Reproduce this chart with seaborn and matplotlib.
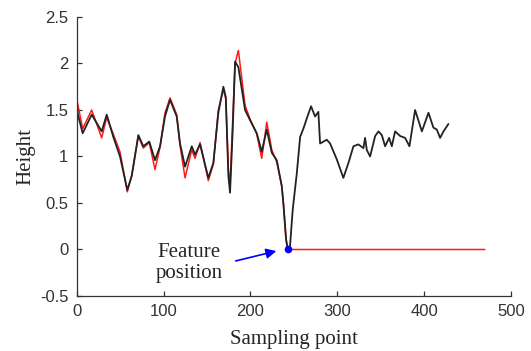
import matplotlib
matplotlib.use("Agg")
import matplotlib.pyplot as plt
import seaborn as sns
import pandas as pd

# ---- data ----
black_x = [0, 1.5, 6.9, 17.3, 28.8, 34.6, 42.2, 49.9, 58.3, 63.4, 71.0, 76.7, 83.6, 90.2,
           96.0, 101.7, 107.5, 115.2, 119.0, 124.8, 132.5, 136.3, 142.1, 151.6, 157.4,
           163.1, 168.9, 171.7, 174.7, 176.6, 179.7, 182.4, 186.2, 193.9, 199.7, 207.4,
           213.1, 218.9, 224.7, 230.4, 236.2, 238.0, 241.1, 243.1, 245.7, 248.8, 253.5,
           257.3, 261.1, 265.0, 269.9, 274.5, 278.3, 280.3, 288.0, 291.8, 299.5, 307.1,
           312.9, 318.7, 324.4, 330.2, 332.1, 334.1, 337.9, 343.7, 347.5, 351.4, 355.2,
           359.8, 362.9, 366.7, 372.5, 378.2, 383.2, 389.7, 397.5, 405.1, 410.8, 414.7,
           418.5, 422.4, 428.1]
black_y = [1.55, 1.45, 1.25, 1.45, 1.27, 1.45, 1.21, 1.00, 0.64, 0.79, 1.23, 1.11, 1.16, 0.96,
           1.11, 1.43, 1.61, 1.43, 1.14, 0.89, 1.11, 1.02, 1.13, 0.77, 0.93,
           1.47, 1.75, 1.64, 0.79, 0.61, 1.29, 2.02, 1.96, 1.50, 1.39, 1.25,
           1.05, 1.29, 1.04, 0.96, 0.68, 0.50, 0.11, 0.00, 0.04, 0.43, 0.82,
           1.21, 1.30, 1.41, 1.54, 1.43, 1.48, 1.14, 1.18, 1.14, 0.97, 0.77,
           0.93, 1.11, 1.13, 1.09, 1.20, 1.07, 1.00, 1.22, 1.27, 1.23, 1.11,
           1.20, 1.11, 1.27, 1.22, 1.20, 1.11, 1.50, 1.27, 1.47, 1.31, 1.29,
           1.20, 1.27, 1.35]

red_x = [0, 6.9, 17.3, 28.8, 34.6, 42.2, 49.9, 58.3, 63.4, 71.0, 76.7, 83.6, 90.2,
         96.0, 101.7, 107.5, 115.2, 119.0, 124.8, 132.5, 136.3, 142.1, 151.6, 157.4,
         163.1, 168.9, 171.7, 174.7, 176.6, 179.7, 182.4, 186.2, 193.9, 199.7, 207.4,
         213.1, 218.9, 224.7, 230.4, 236.2, 238.0, 241.1, 243.1, 470]
red_y = [1.62, 1.30, 1.50, 1.20, 1.42, 1.24, 1.05, 0.62, 0.80, 1.22, 1.09, 1.15, 0.86,
         1.10, 1.47, 1.63, 1.45, 1.12, 0.77, 1.07, 0.98, 1.15, 0.74, 0.92,
         1.50, 1.72, 1.62, 0.85, 0.70, 1.40, 2.00, 2.14, 1.55, 1.40, 1.24,
         0.98, 1.37, 1.07, 0.94, 0.68, 0.50, 0.11, 0.00, 0.00]

feature_x = [243.1]
feature_y = [0.0]

x_ticks = [0, 100, 200, 300, 400, 500]
y_ticks = [-0.5, 0, 0.5, 1, 1.5, 2, 2.5]
y_tick_labels = ["-0.5", "0", "0.5", "1", "1.5", "2", "2.5"]

sns.set_style("ticks")
plt.rcParams['font.family'] = ['Liberation Sans', 'DejaVu Sans']

fig = plt.figure(figsize=(5.31, 3.51), dpi=100)
ax = fig.add_axes([0.1444, 0.1567, 0.9621 - 0.1444, 0.9516 - 0.1567])

red_df = pd.DataFrame({"x": red_x, "y": red_y})
black_df = pd.DataFrame({"x": black_x, "y": black_y})
sns.lineplot(data=red_df, x="x", y="y", color="#ff1a1a", lw=1.1, estimator=None, ax=ax)
sns.lineplot(data=black_df, x="x", y="y", color="#222222", lw=1.3, estimator=None, ax=ax)
ax.scatter(feature_x, feature_y, color="blue", s=20, zorder=5)

ax.annotate("", xy=(233, -0.01), xytext=(180, -0.13),
            arrowprops=dict(arrowstyle="-|>", color="blue", lw=1.2, mutation_scale=15))
ax.text(129.5, -0.145, "Feature\nposition", ha="center", va="center",
        fontsize=15, family=["Liberation Serif"], linespacing=1.1)

ax.set_xlim(0, 500)
ax.set_ylim(-0.5, 2.5)
ax.set_xticks(x_ticks)
ax.set_yticks(y_ticks)
ax.set_yticklabels(y_tick_labels)
ax.tick_params(direction="in", length=3.5, width=0.9, labelsize=12,
               colors="#333333", labelcolor="#333333")
ax.tick_params(axis="x", pad=6)
ax.tick_params(axis="y", pad=6)
for s in ["top", "right"]:
    ax.spines[s].set_visible(False)
for s in ["left", "bottom"]:
    ax.spines[s].set_color("#333333")
    ax.spines[s].set_linewidth(0.9)

ax.set_xlabel("Sampling point", fontsize=15, family=["Liberation Serif"], labelpad=8)
ax.set_ylabel("Height", fontsize=15, family=["Liberation Serif"], labelpad=3)

fig.savefig("out.png", dpi=100)
